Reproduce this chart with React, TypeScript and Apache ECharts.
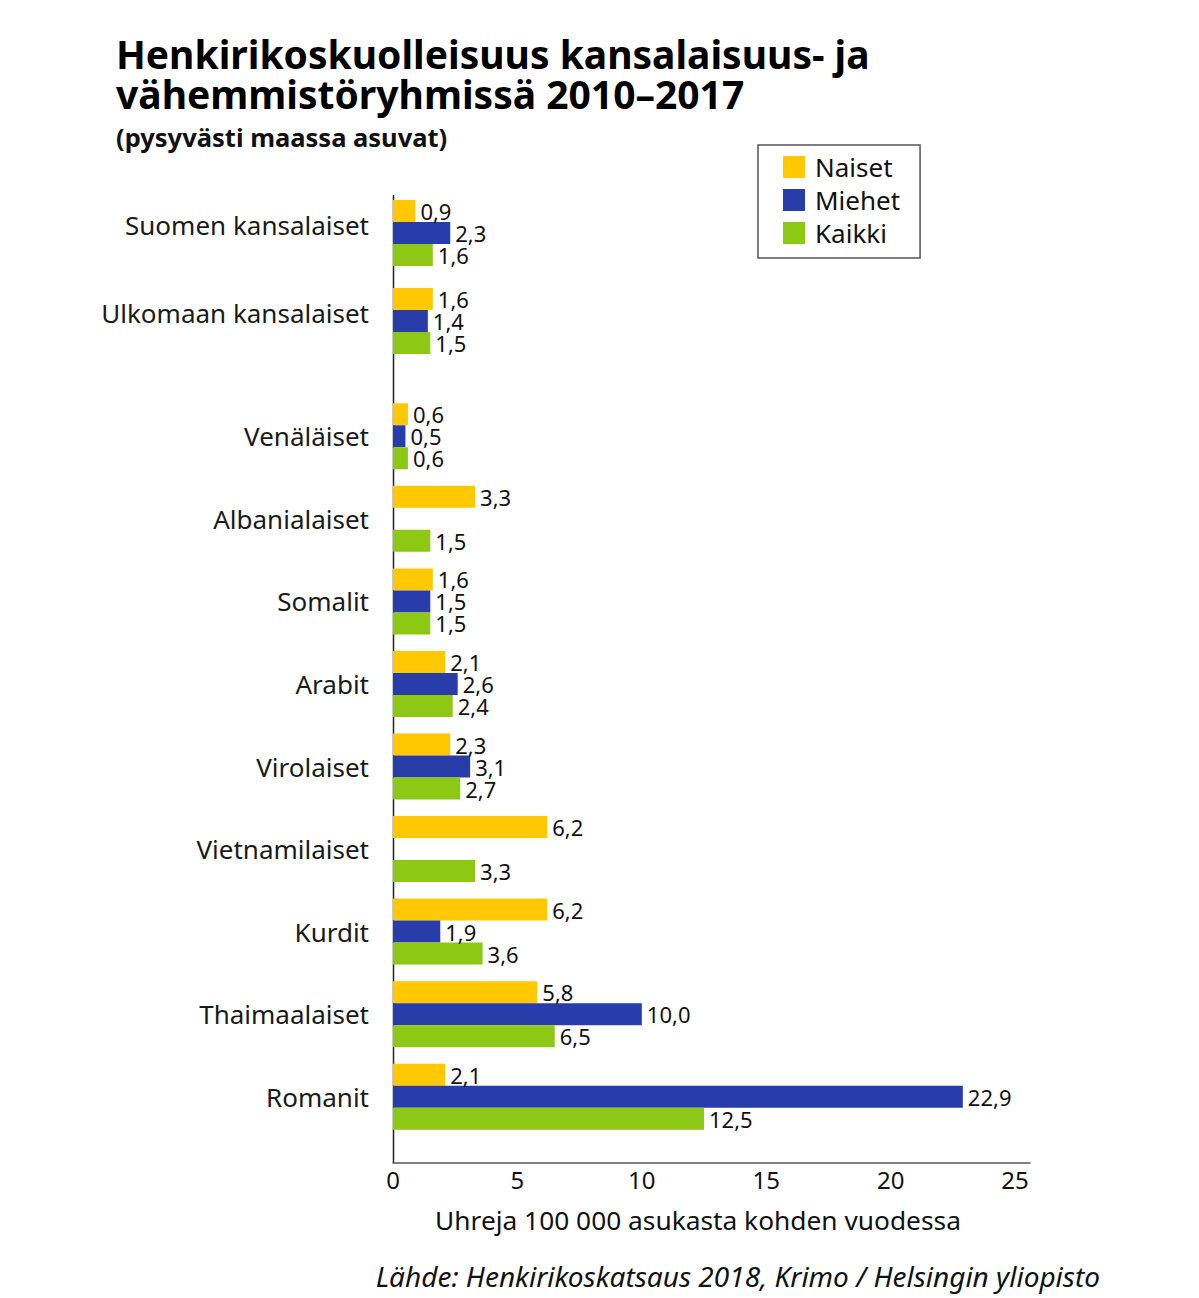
import React, { useEffect, useRef } from "react";
import * as echarts from "echarts";

const categories = [
  "Suomen kansalaiset",
  "Ulkomaan kansalaiset",
  "Venäläiset",
  "Albanialaiset",
  "Somalit",
  "Arabit",
  "Virolaiset",
  "Vietnamilaiset",
  "Kurdit",
  "Thaimaalaiset",
  "Romanit",
];
const naiset: (number | null)[] = [0.9, 1.6, 0.6, 3.3, 1.6, 2.1, 2.3, 6.2, 6.2, 5.8, 2.1];
const miehet: (number | null)[] = [2.3, 1.4, 0.5, null, 1.5, 2.6, 3.1, null, 1.9, 10.0, 22.9];
const kaikki: (number | null)[] = [1.6, 1.5, 0.6, 1.5, 1.5, 2.4, 2.7, 3.3, 3.6, 6.5, 12.5];
const seriesNames = ["Naiset", "Miehet", "Kaikki"];
const xTickValues = [0, 5, 10, 15, 20, 25];
const splitAt = 2; // citizenship groups | minority groups

const COLORS = ["#FFC800", "#283CAA", "#8CC814"];
const FONT = "'Noto Sans', sans-serif";

export default function App() {
  const ref = useRef<HTMLDivElement>(null);
  useEffect(() => {
    document.body.style.margin = "0";
    if (!ref.current) return;
    const chart = echarts.init(ref.current, undefined, { renderer: "svg" });
    const seriesData = [naiset, miehet, kaikki];
    const parts = [
      { from: 0, to: splitAt },
      { from: splitAt, to: categories.length },
    ];
    const xMax = 25.6;
    const series: any[] = [];
    parts.forEach((p, gi) => {
      seriesNames.forEach((name, si) => {
        series.push({
          type: "bar",
          name,
          xAxisIndex: gi,
          yAxisIndex: gi,
          data: seriesData[si].slice(p.from, p.to),
          barWidth: 22,
          barGap: "0%",
          itemStyle: { color: COLORS[si] },
          label: {
            show: true,
            position: "right",
            distance: 5,
            fontSize: 22,
            lineHeight: 22,
            fontFamily: FONT,
            color: "#111",
            formatter: (d: any) =>
              d.value == null ? "" : Number(d.value).toFixed(1).replace(".", ","),
          },
        });
      });
    });
    const catLabelStyle = { fontSize: 26, color: "#1a1a1a", fontFamily: FONT };
    chart.setOption({
      animation: false,
      textStyle: { fontFamily: FONT },
      grid: [
        { left: 393, width: 637, top: 189, height: 176 },
        { left: 393, width: 637, top: 395, height: 743 },
      ],
      xAxis: parts.map((_, gi) => ({
        type: "value",
        gridIndex: gi,
        min: 0,
        max: xMax,
        interval: 5,
        show: gi === 1,
        offset: gi === 1 ? 25 : 0,
        axisLine: { show: true, lineStyle: { color: "#555", width: 1.5 } },
        axisTick: { show: false },
        splitLine: { show: false },
        axisLabel: {
          fontSize: 24,
          color: "#111",
          fontFamily: FONT,
          margin: 4,
          formatter: (v: number) => (xTickValues.includes(v) ? String(v) : ""),
        },
      })),
      yAxis: parts.map((p, gi) => ({
        type: "category",
        gridIndex: gi,
        inverse: true,
        data: categories.slice(p.from, p.to),
        axisLine: { show: false },
        axisTick: { show: false },
        axisLabel:
          gi === 0
            ? {
                ...catLabelStyle,
                margin: 24,
                formatter: (v: string) => `{c|${v}}`,
                rich: { c: { ...catLabelStyle, padding: [0, 0, 16, 0] } },
              }
            : { ...catLabelStyle, margin: 24 },
      })),
      legend: {
        data: seriesNames,
        orient: "vertical",
        left: 758,
        top: 145,
        itemWidth: 22,
        itemHeight: 22,
        itemGap: 7,
        icon: "rect",
        padding: [9, 20, 12, 25],
        borderColor: "#555",
        borderWidth: 1.5,
        selectedMode: false,
        textStyle: {
          fontSize: 26,
          color: "#111",
          fontFamily: FONT,
          padding: [0, 0, 0, 5],
        },
      },
      graphic: [
        {
          type: "line",
          shape: { x1: 393.5, y1: 195, x2: 393.5, y2: 1163 },
          style: { stroke: "#222", lineWidth: 1.5 },
          silent: true,
        },
        {
          type: "text",
          x: 116,
          y: 33,
          style: {
            text: "Henkirikoskuolleisuus kansalaisuus- ja\nvähemmistöryhmissä 2010–2017",
            font: "bold 39px 'Noto Sans', sans-serif",
            lineHeight: 40,
            fill: "#000",
            verticalAlign: "top",
          },
        },
        {
          type: "text",
          x: 116,
          y: 137,
          style: {
            text: "(pysyvästi maassa asuvat)",
            font: "bold 25.5px 'Noto Sans', sans-serif",
            fill: "#111",
            verticalAlign: "middle",
          },
        },
        {
          type: "text",
          x: 698,
          y: 1220,
          style: {
            text: "Uhreja 100 000 asukasta kohden vuodessa",
            font: "26.3px 'Noto Sans', sans-serif",
            fill: "#111",
            align: "center",
            verticalAlign: "middle",
          },
        },
        {
          type: "text",
          x: 1100,
          y: 1276,
          style: {
            text: "Lähde: Henkirikoskatsaus 2018, Krimo / Helsingin yliopisto",
            font: "italic 28px 'Noto Sans', sans-serif",
            fill: "#111",
            align: "right",
            verticalAlign: "middle",
          },
        },
      ],
      series,
    });
    return () => chart.dispose();
  }, []);
  return <div ref={ref} style={{ width: 1199, height: 1298 }} />;
}
